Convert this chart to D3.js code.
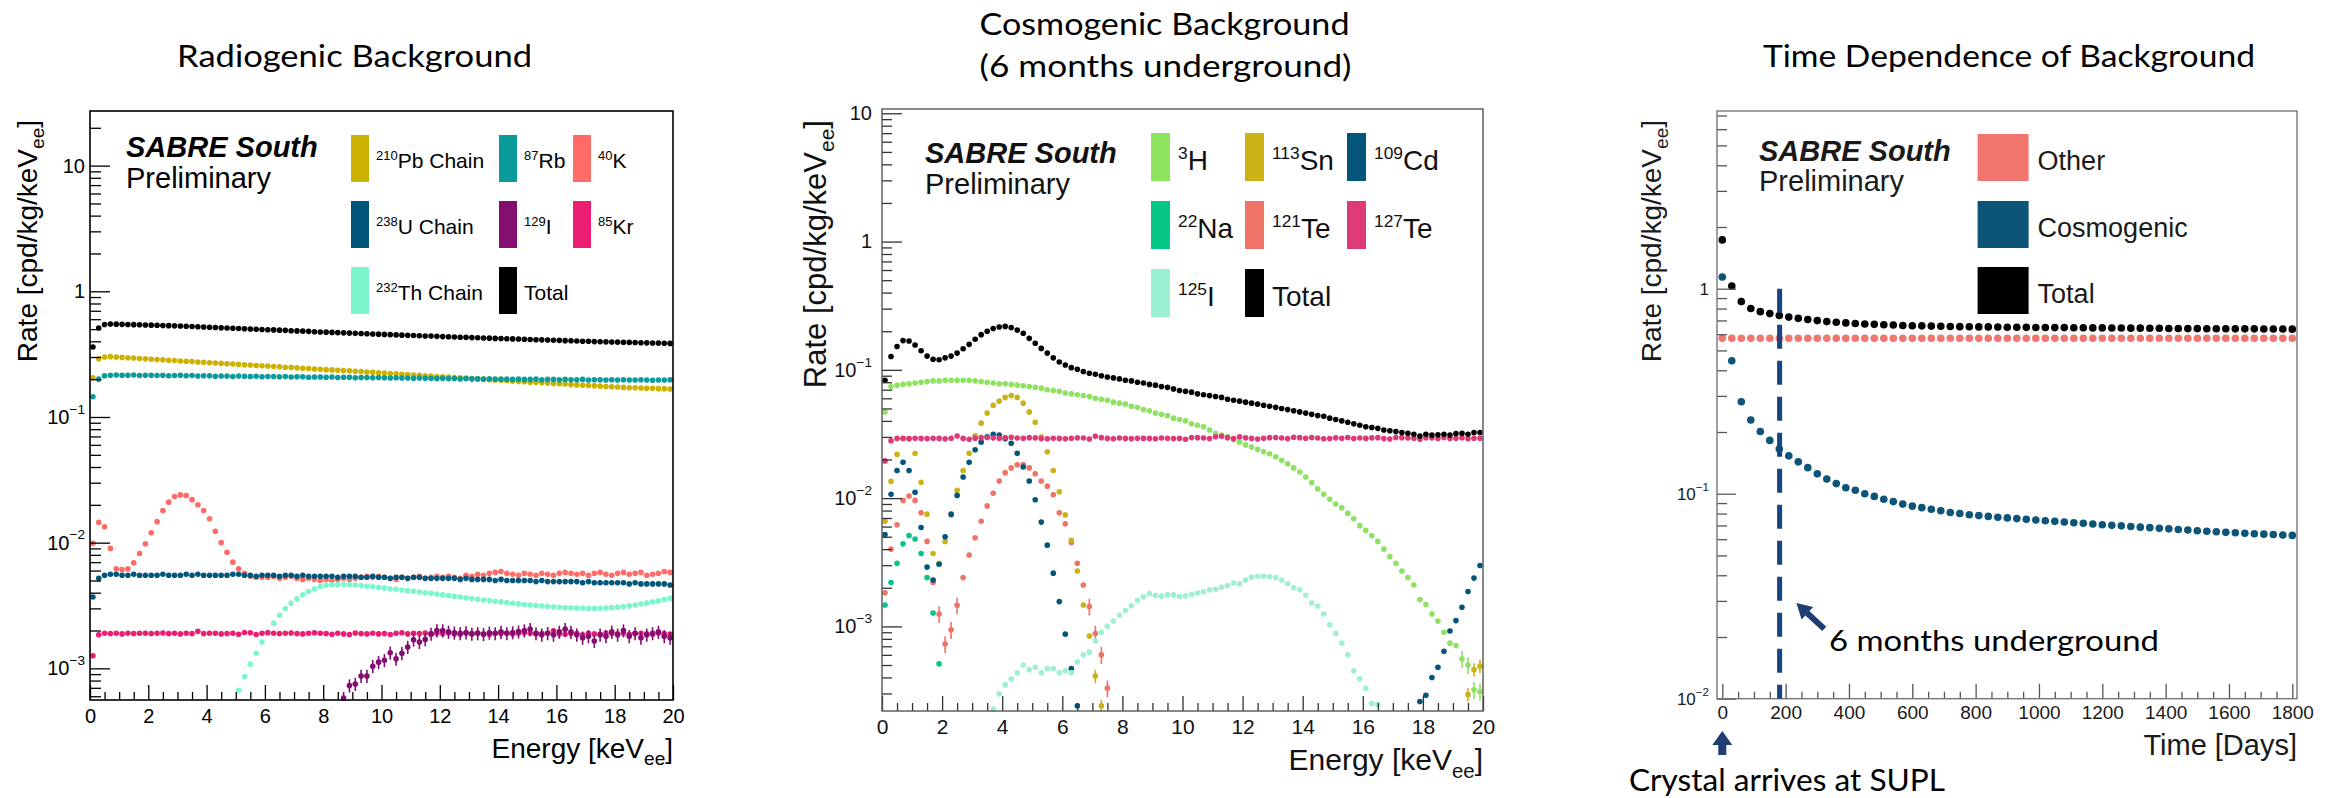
<!doctype html>
<html lang='en'>
<head>
<meta charset='UTF-8'>
<title>SABRE South backgrounds</title>
<style>
  body,html{ margin:0; padding:0; background:#fff; }
  svg{ display:block; }
</style>
</head>
<body>
<script src='https://d3js.org/d3.v7.min.js'></script>
<script>
  // bin centres (keVee) and time points (days)
  const energyBins = d3.range(100).map(i => Math.round((0.1 + 0.2 * i) * 10) / 10)
  const dayPoints = d3.range(0, 1801, 30)

  /******************** radiogenic background [cpd/kg/keVee] ********************/
  const radioTotal = [
    0.36, 0.51, 0.545, 0.55, 0.548, 0.546, 0.545, 0.543, 0.542, 0.540,
    0.538, 0.537, 0.535, 0.533, 0.531, 0.530, 0.527, 0.525, 0.523, 0.520,
    0.517, 0.515, 0.512, 0.510, 0.508, 0.506, 0.503, 0.501, 0.499, 0.497,
    0.495, 0.493, 0.491, 0.489, 0.486, 0.484, 0.482, 0.480, 0.477, 0.475,
    0.473, 0.471, 0.469, 0.467, 0.465, 0.463, 0.461, 0.459, 0.457, 0.456,
    0.454, 0.452, 0.450, 0.448, 0.446, 0.445, 0.443, 0.441, 0.440, 0.438,
    0.436, 0.435, 0.433, 0.431, 0.430, 0.428, 0.427, 0.425, 0.424, 0.422,
    0.421, 0.419, 0.418, 0.417, 0.415, 0.414, 0.412, 0.411, 0.410, 0.408,
    0.407, 0.405, 0.404, 0.402, 0.401, 0.400, 0.398, 0.397, 0.396, 0.395,
    0.394, 0.393, 0.392, 0.391, 0.390, 0.389, 0.388, 0.387, 0.386, 0.385]
  const pb210 = [
    0.205, 0.29, 0.30, 0.302, 0.30, 0.298, 0.296, 0.294, 0.292, 0.290,
    0.288, 0.287, 0.285, 0.283, 0.281, 0.279, 0.277, 0.276, 0.274, 0.272,
    0.270, 0.269, 0.267, 0.265, 0.264, 0.262, 0.260, 0.259, 0.257, 0.256,
    0.254, 0.252, 0.251, 0.249, 0.248, 0.246, 0.244, 0.243, 0.241, 0.240,
    0.238, 0.237, 0.235, 0.234, 0.233, 0.231, 0.230, 0.228, 0.227, 0.225,
    0.224, 0.222, 0.221, 0.219, 0.218, 0.216, 0.215, 0.213, 0.212, 0.210,
    0.209, 0.208, 0.206, 0.205, 0.204, 0.202, 0.201, 0.200, 0.198, 0.197,
    0.196, 0.194, 0.193, 0.192, 0.191, 0.189, 0.188, 0.187, 0.186, 0.185,
    0.184, 0.183, 0.181, 0.180, 0.179, 0.178, 0.177, 0.176, 0.175, 0.174,
    0.173, 0.172, 0.171, 0.171, 0.170, 0.169, 0.169, 0.168, 0.168, 0.167]
  const rb87 = [
    0.145, 0.200, 0.213, 0.215, 0.216, 0.215, 0.215, 0.216, 0.214, 0.215,
    0.215, 0.214, 0.215, 0.213, 0.214, 0.215, 0.213, 0.214, 0.212, 0.213,
    0.213, 0.211, 0.212, 0.212, 0.210, 0.212, 0.211, 0.210, 0.211, 0.209,
    0.210, 0.210, 0.209, 0.210, 0.208, 0.209, 0.209, 0.207, 0.208, 0.208,
    0.207, 0.208, 0.206, 0.207, 0.207, 0.205, 0.206, 0.206, 0.205, 0.206,
    0.205, 0.204, 0.205, 0.204, 0.204, 0.203, 0.204, 0.203, 0.203, 0.202,
    0.203, 0.202, 0.202, 0.201, 0.202, 0.201, 0.201, 0.200, 0.201, 0.200,
    0.200, 0.200, 0.199, 0.200, 0.199, 0.199, 0.200, 0.198, 0.199, 0.199,
    0.198, 0.199, 0.198, 0.198, 0.199, 0.197, 0.198, 0.198, 0.197, 0.198,
    0.197, 0.198, 0.197, 0.197, 0.198, 0.197, 0.196, 0.197, 0.197, 0.198]
  const k40 = [
    0.0099, 0.0145, 0.0134, 0.0090, 0.0062, 0.0061, 0.0062, 0.0069, 0.0082, 0.0098,
    0.0120, 0.0147, 0.0180, 0.0210, 0.0233, 0.0240, 0.0237, 0.0220, 0.0200, 0.0180,
    0.0155, 0.0123, 0.0100, 0.0084, 0.0070, 0.0062, 0.0057, 0.0054, 0.0053, 0.0053,
    0.0053, 0.0054, 0.0052, 0.0053, 0.0054, 0.0052, 0.0051, 0.0052, 0.0051, 0.0050,
    0.0051, 0.0050, 0.0051, 0.0052, 0.0051, 0.0052, 0.0053, 0.0054, 0.0053, 0.0054,
    0.0053, 0.0052, 0.0051, 0.0053, 0.0052, 0.0053, 0.0054, 0.0052, 0.0053, 0.0054,
    0.0053, 0.0054, 0.0053, 0.0052, 0.0055, 0.0054, 0.0056, 0.0055, 0.0057, 0.0058,
    0.0059, 0.0057, 0.0056, 0.0055, 0.0057, 0.0056, 0.0055, 0.0057, 0.0056, 0.0055,
    0.0057, 0.0058, 0.0057, 0.0056, 0.0057, 0.0055, 0.0057, 0.0058, 0.0056, 0.0055,
    0.0057, 0.0058, 0.0056, 0.0057, 0.0058, 0.0055, 0.0056, 0.0057, 0.0059, 0.0058]
  const u238 = [
    0.0037, 0.0052, 0.0055, 0.0056, 0.0056, 0.0055, 0.0055, 0.0056, 0.0055, 0.0055,
    0.0055, 0.0055, 0.0056, 0.0055, 0.0055, 0.0055, 0.0056, 0.0055, 0.0056, 0.0055,
    0.0055, 0.0055, 0.0055, 0.0055, 0.0056, 0.0056, 0.0055, 0.0055, 0.0054, 0.0055,
    0.0055, 0.0055, 0.0054, 0.0055, 0.0055, 0.0054, 0.0055, 0.0054, 0.0054, 0.0054,
    0.0054, 0.0054, 0.0053, 0.0054, 0.0054, 0.0054, 0.0053, 0.0053, 0.0054, 0.0053,
    0.0053, 0.0052, 0.0053, 0.0053, 0.0052, 0.0053, 0.0053, 0.0052, 0.0052, 0.0052,
    0.0052, 0.0052, 0.0052, 0.0051, 0.0052, 0.0051, 0.0051, 0.0051, 0.0051, 0.0050,
    0.0051, 0.0050, 0.0050, 0.0050, 0.0050, 0.0050, 0.0049, 0.0050, 0.0049, 0.0049,
    0.0049, 0.0049, 0.0049, 0.0049, 0.0048, 0.0049, 0.0048, 0.0048, 0.0048, 0.0048,
    0.0048, 0.0048, 0.0047, 0.0048, 0.0047, 0.0047, 0.0047, 0.0047, 0.0047, 0.0046]
  const kr85 = [
    0.00126, 0.00185, 0.0019, 0.00189, 0.0019, 0.00188, 0.0019, 0.00189, 0.0019, 0.0019,
    0.00189, 0.0019, 0.00191, 0.00189, 0.0019, 0.00188, 0.0019, 0.00189, 0.00197, 0.00189,
    0.0019, 0.0019, 0.00188, 0.00189, 0.0019, 0.00187, 0.00193, 0.00192, 0.00186, 0.0019,
    0.00192, 0.0019, 0.00189, 0.0019, 0.00191, 0.00189, 0.00188, 0.0019, 0.00192, 0.0019,
    0.00189, 0.00187, 0.0019, 0.00188, 0.00186, 0.00191, 0.00189, 0.00188, 0.0019, 0.00188,
    0.00189, 0.00186, 0.0019, 0.00192, 0.00188, 0.0019, 0.00189, 0.00191, 0.00188, 0.0019,
    0.00189, 0.00192, 0.00188, 0.00187, 0.0019, 0.00189, 0.00191, 0.00188, 0.00187, 0.0019,
    0.00189, 0.00191, 0.00188, 0.0019, 0.00192, 0.0019, 0.00188, 0.00189, 0.0019, 0.00199,
    0.00188, 0.00187, 0.00189, 0.0019, 0.00185, 0.0019, 0.00188, 0.00187, 0.00191, 0.00189,
    0.00188, 0.0019, 0.00187, 0.00189, 0.0019, 0.00188, 0.00187, 0.00191, 0.00189, 0.00187]
  // starts at bin 25 (5.1 keV)
  const th232 = [
    6.7e-4, 8.6e-4, 1.08e-3, 1.32e-3, 1.62e-3,
    1.94e-3, 2.29e-3, 2.64e-3, 2.98e-3, 3.3e-3, 3.57e-3, 3.85e-3, 4.08e-3, 4.3e-3, 4.47e-3,
    4.58e-3, 4.63e-3, 4.65e-3, 4.65e-3, 4.64e-3, 4.6e-3, 4.56e-3, 4.5e-3, 4.45e-3, 4.4e-3,
    4.35e-3, 4.3e-3, 4.25e-3, 4.2e-3, 4.15e-3, 4.1e-3, 4.05e-3, 4.0e-3, 3.95e-3, 3.9e-3,
    3.85e-3, 3.8e-3, 3.75e-3, 3.7e-3, 3.65e-3, 3.6e-3, 3.55e-3, 3.5e-3, 3.46e-3, 3.42e-3,
    3.38e-3, 3.34e-3, 3.3e-3, 3.26e-3, 3.22e-3, 3.19e-3, 3.16e-3, 3.13e-3, 3.1e-3, 3.08e-3,
    3.06e-3, 3.04e-3, 3.03e-3, 3.02e-3, 3.01e-3, 3.0e-3, 3.0e-3, 3.01e-3, 3.02e-3, 3.04e-3,
    3.07e-3, 3.1e-3, 3.14e-3, 3.19e-3, 3.25e-3, 3.31e-3, 3.38e-3, 3.45e-3, 3.53e-3, 3.62e-3]
  // starts at bin 43 (8.7 keV)
  const i129 = [
    5.8e-4, 7.3e-4, 7.5e-4, 8.7e-4, 8.7e-4, 1.04e-3, 1.12e-3,
    1.16e-3, 1.33e-3, 1.19e-3, 1.32e-3, 1.48e-3, 1.69e-3, 1.62e-3, 1.70e-3, 1.88e-3, 2.0e-3,
    2.0e-3, 1.95e-3, 1.92e-3, 1.9e-3, 1.93e-3, 1.88e-3, 1.9e-3, 1.87e-3, 1.92e-3, 1.9e-3,
    1.95e-3, 1.9e-3, 1.93e-3, 1.96e-3, 2.0e-3, 2.05e-3, 1.9e-3, 1.85e-3, 1.9e-3, 1.85e-3,
    1.95e-3, 2.05e-3, 1.95e-3, 1.85e-3, 1.75e-3, 1.8e-3, 1.65e-3, 1.85e-3, 1.8e-3, 1.95e-3,
    1.85e-3, 2.0e-3, 1.8e-3, 1.9e-3, 1.75e-3, 1.85e-3, 1.9e-3, 1.95e-3, 1.8e-3, 1.75e-3]

  /******************** cosmogenic background, 6 months underground ********************/
  const cosmoTotal = [
    0.083, 0.127, 0.152, 0.169, 0.168, 0.156, 0.141, 0.128, 0.121, 0.120,
    0.124, 0.128, 0.135, 0.146, 0.158, 0.173, 0.188, 0.200, 0.210, 0.216,
    0.218, 0.214, 0.204, 0.193, 0.176, 0.161, 0.147, 0.135, 0.124, 0.115,
    0.109, 0.104, 0.101, 0.097, 0.094, 0.0925, 0.090, 0.088, 0.0865, 0.085,
    0.083, 0.082, 0.080, 0.079, 0.077, 0.076, 0.074, 0.073, 0.071, 0.069,
    0.068, 0.067, 0.065, 0.064, 0.063, 0.062, 0.061, 0.059, 0.058, 0.057,
    0.056, 0.055, 0.054, 0.053, 0.052, 0.051, 0.050, 0.049, 0.048, 0.047,
    0.046, 0.045, 0.044, 0.0435, 0.042, 0.041, 0.040, 0.039, 0.038, 0.037,
    0.036, 0.0355, 0.035, 0.034, 0.0335, 0.033, 0.0325, 0.032, 0.0315, 0.0305,
    0.0315, 0.031, 0.0312, 0.0315, 0.031, 0.0318, 0.032, 0.0315, 0.0325, 0.0325]
  const h3 = [
    0.047, 0.074, 0.076, 0.077, 0.078, 0.079, 0.080, 0.081, 0.082, 0.082,
    0.083, 0.083, 0.083, 0.083, 0.083, 0.082, 0.081, 0.080, 0.079, 0.078,
    0.078, 0.077, 0.076, 0.075, 0.074, 0.073, 0.072, 0.070, 0.069, 0.068,
    0.066, 0.065, 0.064, 0.063, 0.062, 0.060, 0.059, 0.058, 0.056, 0.055,
    0.054, 0.052, 0.051, 0.049, 0.048, 0.046, 0.045, 0.044, 0.042, 0.041,
    0.040, 0.038, 0.037, 0.036, 0.034, 0.032, 0.031, 0.030, 0.0285, 0.0273,
    0.026, 0.025, 0.024, 0.023, 0.0222, 0.021, 0.0197, 0.0185, 0.0172, 0.016,
    0.0146, 0.0132, 0.0118, 0.0107, 0.0098, 0.0090, 0.0084, 0.0076, 0.0069, 0.0061,
    0.0056, 0.0051, 0.0046, 0.0040, 0.0035, 0.0031, 0.0027, 0.0024, 0.0021, 0.00162,
    0.00148, 0.00125, 0.0011, 0.0009, 0.00074, 0.00071, 0.00056, 0.0005, 0.00032, 0.00031]
  const te127 = [
    0.0195, 0.028, 0.0292, 0.0293, 0.0291, 0.0293, 0.0292, 0.0291, 0.0293, 0.0292,
    0.0290, 0.0293, 0.0305, 0.0292, 0.0288, 0.0293, 0.0296, 0.0297, 0.0295, 0.0293,
    0.0296, 0.0298, 0.0294, 0.0293, 0.0296, 0.0295, 0.0291, 0.0290, 0.0293, 0.0292,
    0.0290, 0.0293, 0.0295, 0.0294, 0.0289, 0.0303, 0.0296, 0.0292, 0.0290, 0.0294,
    0.0292, 0.0291, 0.0293, 0.0292, 0.0292, 0.0290, 0.0294, 0.0293, 0.0291, 0.0292,
    0.0288, 0.0297, 0.0296, 0.0294, 0.0291, 0.0301, 0.0303, 0.0296, 0.0291, 0.0300,
    0.0295, 0.0292, 0.0289, 0.0293, 0.0296, 0.0297, 0.0294, 0.0291, 0.0298, 0.0296,
    0.0293, 0.0297, 0.0294, 0.0290, 0.0291, 0.0295, 0.0293, 0.0297, 0.0291, 0.0294,
    0.0292, 0.0295, 0.0296, 0.0291, 0.0289, 0.0297, 0.0296, 0.0294, 0.0293, 0.0288,
    0.0296, 0.0295, 0.0292, 0.0297, 0.0291, 0.0293, 0.0296, 0.0290, 0.0293, 0.0293]
  const sn113 = [
    0.0066, 0.0135, 0.022, 0.029, 0.029, 0.0223, 0.0133, 0.0075, 0.0037, 0.0031,
    0.0046, 0.0074, 0.0115, 0.0164, 0.0224, 0.0306, 0.0384, 0.046, 0.053, 0.057,
    0.061, 0.063, 0.061, 0.055, 0.047, 0.039, 0.030, 0.023, 0.0164, 0.0112,
    0.0074, 0.0047, 0.0027, 0.00147, 0.00084, 0.00041, 0.00024]
  const sn113Tail = [0.000295, 0.00046, 0.00049]           // bins 97-99
  const cd109 = [
    0.0052, 0.0107, 0.0164, 0.019, 0.0164, 0.0111, 0.0059, 0.0029, 0.0023, 0.00305,
    0.0050, 0.0075, 0.0105, 0.0146, 0.019, 0.0238, 0.0273, 0.030, 0.0315, 0.031,
    0.029, 0.0268, 0.0224, 0.0175, 0.0136, 0.0097, 0.0065, 0.0043, 0.0026, 0.00156,
    0.00087, 0.00047, 0.00024]
  const cd109Tail = [0.00026, 0.00029, 0.0004, 0.00048, 0.00064, 0.00092, 0.00111,
    0.00141, 0.00187, 0.00238, 0.00298]                    // bins 89-99
  const te121 = [
    0.00183, 0.0040, 0.0062, 0.0096, 0.0104, 0.0096, 0.0077, 0.0046, 0.0022, 0.00125,
    0.00073, 0.00094, 0.00146, 0.0024, 0.0036, 0.0049, 0.0066, 0.0087, 0.0109, 0.0136,
    0.0158, 0.0172, 0.0182, 0.0183, 0.0172, 0.0155, 0.0136, 0.0124, 0.0106, 0.0077,
    0.0063, 0.0045, 0.0031, 0.0021, 0.00143, 0.00088, 0.0006, 0.00033]
  const na22 = [0.00147, 0.0022, 0.0031, 0.0044, 0.0051, 0.0048, 0.0037, 0.0024, 0.00127, 0.00051]
  // starts at bin 18 (3.7 keV)
  const i125 = [
    2.27e-4, 2.98e-4,
    3.5e-4, 3.9e-4, 4.35e-4, 5.0e-4, 4.6e-4, 4.8e-4, 4.35e-4, 4.7e-4, 4.7e-4, 4.35e-4,
    4.5e-4, 4.35e-4, 5.3e-4, 6.0e-4, 6.3e-4, 7.7e-4, 9.0e-4, 1.0e-3, 1.1e-3, 1.22e-3,
    1.33e-3, 1.45e-3, 1.6e-3, 1.7e-3, 1.8e-3, 1.75e-3, 1.72e-3, 1.76e-3, 1.76e-3, 1.71e-3,
    1.73e-3, 1.78e-3, 1.82e-3, 1.86e-3, 1.93e-3, 1.95e-3, 2.02e-3, 2.08e-3, 2.18e-3, 2.15e-3,
    2.3e-3, 2.42e-3, 2.46e-3, 2.46e-3, 2.44e-3, 2.4e-3, 2.3e-3, 2.15e-3, 2.0e-3, 1.93e-3,
    1.75e-3, 1.52e-3, 1.44e-3, 1.25e-3, 1.03e-3, 8.8e-4, 7.4e-4, 6.0e-4, 4.5e-4, 3.9e-4,
    3.3e-4, 2.5e-4, 2.46e-4]

  /******************** time dependence (monthly points) ********************/
  const otherRate = [
    0.573, 0.573, 0.573, 0.573, 0.573, 0.573, 0.573, 0.573, 0.573, 0.573,
    0.573, 0.573, 0.573, 0.573, 0.573, 0.573, 0.573, 0.573, 0.573, 0.573,
    0.573, 0.573, 0.573, 0.573, 0.573, 0.573, 0.573, 0.573, 0.573, 0.573,
    0.573, 0.573, 0.573, 0.573, 0.573, 0.573, 0.573, 0.573, 0.573, 0.573,
    0.573, 0.573, 0.573, 0.573, 0.573, 0.573, 0.573, 0.573, 0.573, 0.573,
    0.573, 0.573, 0.573, 0.573, 0.573, 0.573, 0.573, 0.573, 0.573, 0.573, 0.573]
  const cosmoRate = [
    1.14, 0.445, 0.281, 0.229, 0.201, 0.182, 0.165, 0.153, 0.143, 0.134,
    0.125, 0.118, 0.112, 0.107, 0.104, 0.100, 0.097, 0.094, 0.0915, 0.089,
    0.087, 0.0855, 0.084, 0.0826, 0.081, 0.080, 0.079, 0.0782, 0.0775, 0.0768,
    0.0762, 0.0756, 0.075, 0.0744, 0.0738, 0.0733, 0.0728, 0.0722, 0.0717, 0.0711,
    0.0706, 0.0701, 0.0697, 0.0692, 0.0687, 0.0683, 0.0678, 0.0674, 0.0669, 0.0665,
    0.066, 0.0656, 0.0652, 0.0648, 0.0645, 0.0641, 0.0638, 0.0635, 0.0632, 0.0629, 0.0626]
  const totalRate = [
    1.73, 1.03, 0.865, 0.80, 0.773, 0.756, 0.740, 0.727, 0.717, 0.708,
    0.699, 0.691, 0.686, 0.681, 0.677, 0.673, 0.670, 0.667, 0.665, 0.662,
    0.660, 0.659, 0.657, 0.656, 0.654, 0.653, 0.652, 0.651, 0.651, 0.650,
    0.649, 0.649, 0.648, 0.647, 0.647, 0.646, 0.646, 0.645, 0.645, 0.644,
    0.644, 0.643, 0.643, 0.642, 0.642, 0.641, 0.641, 0.640, 0.640, 0.639,
    0.639, 0.638, 0.638, 0.638, 0.637, 0.637, 0.637, 0.636, 0.636, 0.636, 0.635]
  const undergroundDay = 181

  const ROOT_FONT = "'Liberation Sans', Arial, Helvetica, sans-serif"
  const SLIDE_FONT = "Lato, 'Open Sans', sans-serif"

  const svg = d3.select('body').append('svg')
    .attr('width', 2335)
    .attr('height', 798)
    .style('background', '#fff')

  // "10", "1", "10^-n" style labels
  function powerLabel(sel, v) {
    const e = Math.round(Math.log10(v))
    sel.text('')
    if (e >= 0) {
      sel.text(String(Math.pow(10, e)))
    } else {
      sel.append('tspan').text('10')
      sel.append('tspan').attr('font-size', '0.68em').attr('dy', '-0.75em').text('\u2212' + (-e))
    }
  }

  // text with a subscript "ee" part, e.g. keV_ee
  function subText(sel, before, sub, after, size) {
    sel.append('tspan').text(before)
    sel.append('tspan').attr('font-size', size * 0.68).attr('dy', size * 0.26).text(sub)
    sel.append('tspan').attr('dy', -size * 0.26).text(after)
  }

  function panel(c) {
    const g = svg.append('g')
    const x = d3.scaleLinear().domain(c.xDomain).range([c.left, c.right])
    const y = d3.scaleLog().domain(c.yDomain).range([c.bottom, c.top])

    // series
    c.series.forEach(s => {
      const pts = []
      s.segs.forEach(([start, vals]) => vals.forEach((v, j) => pts.push({ t: c.xs[start + j], v: v })))
      const shown = pts.filter(p => p.v >= c.yDomain[0] && p.v <= c.yDomain[1])
      const sg = g.append('g')
      if (s.err) {
        sg.selectAll('line')
          .data(shown.filter(p => p.v < s.errBelow))
          .join('line')
          .attr('x1', p => x(p.t)).attr('x2', p => x(p.t))
          .attr('y1', p => y(Math.max(p.v * (1 - s.err), c.yDomain[0])))
          .attr('y2', p => y(p.v * (1 + s.err)))
          .attr('stroke', s.color)
          .attr('stroke-width', 1.6)
      }
      sg.selectAll('circle')
        .data(shown)
        .join('circle')
        .attr('cx', p => x(p.t))
        .attr('cy', p => y(p.v))
        .attr('r', c.r)
        .attr('fill', s.color)
    })

    // x axis, ticks drawn inside the frame
    const xg = g.append('g').attr('transform', `translate(0,${c.bottom})`)
    xg.append('g')
      .call(d3.axisBottom(x).tickValues(c.xMinor).tickSize(-c.xMinorLen).tickFormat(''))
    xg.append('g')
      .call(d3.axisBottom(x).tickValues(c.xMajor).tickSize(-c.xMajorLen).tickPadding(c.xPad).tickFormat(d3.format('d')))
      .attr('font-size', c.xFont)
      .attr('font-family', ROOT_FONT)
    xg.selectAll('.domain').remove()
    xg.selectAll('line').attr('stroke', c.tick).attr('stroke-width', 1.3)
    xg.selectAll('text').attr('fill', c.text)

    // log y axis
    const yMinor = y.ticks().filter(v => Math.abs(Math.log10(v) - Math.round(Math.log10(v))) > 1e-6)
    const yg = g.append('g').attr('transform', `translate(${c.left},0)`)
    yg.append('g')
      .call(d3.axisLeft(y).tickValues(yMinor).tickSize(-c.yMinorLen).tickFormat(''))
      .selectAll('text').remove()
    const yMajorG = yg.append('g')
      .call(d3.axisLeft(y).tickValues(c.yMajor).tickSize(-c.yMajorLen).tickPadding(c.yPad))
      .attr('font-size', c.yFont)
      .attr('font-family', ROOT_FONT)
    yg.selectAll('.domain').remove()
    yg.selectAll('line').attr('stroke', c.tick).attr('stroke-width', 1.3)
    yMajorG.selectAll('text').attr('fill', c.text).each(function(d) { powerLabel(d3.select(this), d) })

    // frame
    g.append('rect')
      .attr('x', c.left).attr('y', c.top)
      .attr('width', c.right - c.left).attr('height', c.bottom - c.top)
      .attr('fill', 'none')
      .attr('stroke', c.frame)
      .attr('stroke-width', c.frameW)

    // axis titles
    const yt = g.append('text')
      .attr('transform', `translate(${c.yTitle.x},${c.yTitle.y}) rotate(-90)`)
      .attr('text-anchor', 'end')
      .attr('font-family', ROOT_FONT)
      .attr('font-size', c.yTitle.size)
      .attr('fill', c.text)
    subText(yt, 'Rate [cpd/kg/keV', 'ee', ']', c.yTitle.size)

    const xt = g.append('text')
      .attr('x', c.right).attr('y', c.xTitle.y)
      .attr('text-anchor', 'end')
      .attr('font-family', ROOT_FONT)
      .attr('font-size', c.xTitle.size)
      .attr('fill', c.text)
    if (c.xTitle.sub) subText(xt, c.xTitle.text, c.xTitle.sub, ']', c.xTitle.size)
    else xt.text(c.xTitle.text)

    // SABRE South Preliminary
    g.append('text')
      .attr('x', c.tag.x).attr('y', c.tag.y)
      .attr('font-family', ROOT_FONT).attr('font-size', 29)
      .attr('font-weight', 'bold').attr('font-style', 'italic')
      .attr('fill', c.text)
      .text('SABRE South')
    g.append('text')
      .attr('x', c.tag.x).attr('y', c.tag.y + c.tag.gap)
      .attr('font-family', ROOT_FONT).attr('font-size', 29)
      .attr('fill', c.text)
      .text('Preliminary')

    // legend
    const L = c.legend
    c.series.slice().sort((a, b) => a.order - b.order).forEach((s, k) => {
      const col = k % L.xs.length
      const row = Math.floor(k / L.xs.length)
      const sx = L.xs[col]
      const sy = L.ys[row]
      g.append('rect')
        .attr('x', sx).attr('y', sy)
        .attr('width', L.w).attr('height', L.h)
        .attr('fill', s.color)
      const t = g.append('text')
        .attr('x', sx + L.w + L.gap).attr('y', sy + L.base)
        .attr('font-family', ROOT_FONT).attr('font-size', L.size)
        .attr('fill', c.text)
      if (s.sup) {
        const rise = L.size * 0.38
        t.append('tspan').attr('font-size', L.size * 0.62).attr('dy', -rise).text(s.sup)
        t.append('tspan').attr('dy', rise).text(s.label)
      } else {
        t.text(s.label)
      }
    })

    // slide title above the plot
    c.title.forEach(tl => {
      svg.append('text')
        .attr('x', tl.x).attr('y', tl.y)
        .attr('text-anchor', 'middle')
        .attr('font-family', SLIDE_FONT)
        .attr('font-size', tl.size)
        .attr('textLength', tl.len)
        .attr('lengthAdjust', 'spacingAndGlyphs')
        .attr('fill', '#000')
        .text(tl.text)
    })

    return { g: g, x: x, y: y }
  }

  const energyMinor = d3.range(0, 20.01, 0.5).filter(v => v % 2 !== 0)

  /******************** radiogenic ********************/
  panel({
    left: 90, right: 673, top: 111, bottom: 700,
    xDomain: [0, 20], yDomain: [5.6e-4, 27.2], xs: energyBins,
    xMajor: d3.range(0, 21, 2), xMinor: energyMinor, xMajorLen: 15, xMinorLen: 8, xPad: 9, xFont: 20,
    yMajor: [1e-3, 1e-2, 1e-1, 1, 10], yMajorLen: 20, yMinorLen: 11, yPad: 5, yFont: 20,
    frame: '#000', frameW: 1.6, tick: '#000', text: '#000', r: 2.8,
    yTitle: { x: 37, y: 120, size: 28 },
    xTitle: { text: 'Energy [keV', sub: 'ee', y: 758, size: 28 },
    tag: { x: 126, y: 157, gap: 31 },
    legend: { xs: [351, 499, 573], ys: [135, 201, 267], w: 18, h: 47, gap: 7, base: 33, size: 21 },
    title: [{ text: 'Radiogenic Background', x: 354.5, y: 67, size: 31, len: 355 }],
    series: [
      { label: 'Pb Chain', sup: '210', color: '#CBB200', order: 0, segs: [[0, pb210]] },
      { label: 'Rb', sup: '87', color: '#0C9B9B', order: 1, segs: [[0, rb87]] },
      { label: 'K', sup: '40', color: '#FF6B66', order: 2, segs: [[0, k40]] },
      { label: 'U Chain', sup: '238', color: '#02567A', order: 3, segs: [[0, u238]] },
      { label: 'Th Chain', sup: '232', color: '#7DF5CF', order: 6, segs: [[25, th232]] },
      { label: 'Kr', sup: '85', color: '#EC1E72', order: 5, segs: [[0, kr85]] },
      { label: 'I', sup: '129', color: '#840D70', order: 4, segs: [[43, i129]], err: 0.12, errBelow: 1 },
      { label: 'Total', color: '#000', order: 7, segs: [[0, radioTotal]] }
    ]
  })

  /******************** cosmogenic ********************/
  panel({
    left: 882, right: 1483, top: 109, bottom: 711,
    xDomain: [0, 20], yDomain: [2.19e-4, 10.8], xs: energyBins,
    xMajor: d3.range(0, 21, 2), xMinor: energyMinor, xMajorLen: 15, xMinorLen: 8, xPad: 8, xFont: 21,
    yMajor: [1e-3, 1e-2, 1e-1, 1, 10], yMajorLen: 20, yMinorLen: 10, yPad: 10, yFont: 20,
    frame: '#555', frameW: 1.4, tick: '#333', text: '#111', r: 2.8,
    yTitle: { x: 826, y: 120, size: 31 },
    xTitle: { text: 'Energy [keV', sub: 'ee', y: 770, size: 30 },
    tag: { x: 925, y: 163, gap: 31 },
    legend: { xs: [1151, 1245, 1347], ys: [133, 201, 269], w: 19, h: 48, gap: 8, base: 37, size: 28 },
    title: [
      { text: 'Cosmogenic Background', x: 1164.5, y: 35, size: 31, len: 370 },
      { text: '(6 months underground)', x: 1165.5, y: 77, size: 31, len: 372 }
    ],
    series: [
      { label: 'H', sup: '3', color: '#8DE25E', order: 0, segs: [[0, h3]], err: 0.15, errBelow: 6e-4 },
      { label: 'Na', sup: '22', color: '#05C687', order: 3, segs: [[0, na22]] },
      { label: 'Te', sup: '121', color: '#F07368', order: 4, segs: [[0, te121]], err: 0.15, errBelow: 1.6e-3 },
      { label: 'Sn', sup: '113', color: '#CDB216', order: 1, segs: [[0, sn113], [97, sn113Tail]], err: 0.12, errBelow: 6e-4 },
      { label: 'Cd', sup: '109', color: '#03557A', order: 2, segs: [[0, cd109], [89, cd109Tail]] },
      { label: 'I', sup: '125', color: '#9CF1D4', order: 6, segs: [[18, i125]] },
      { label: 'Te', sup: '127', color: '#DE3A78', order: 5, segs: [[0, te127]] },
      { label: 'Total', color: '#000', order: 7, segs: [[0, cosmoTotal]] }
    ]
  })

  /******************** time dependence ********************/
  const tp = panel({
    left: 1717, right: 2297, top: 111, bottom: 698.7,
    xDomain: [-16.7, 1814.8], yDomain: [0.01, 7.36], xs: dayPoints,
    xMajor: d3.range(0, 1801, 200), xMinor: d3.range(0, 1801, 50).filter(v => v % 200 !== 0),
    xMajorLen: 15, xMinorLen: 7, xPad: 7, xFont: 19,
    yMajor: [0.01, 0.1, 1], yMajorLen: 19, yMinorLen: 10, yPad: 8, yFont: 17,
    frame: '#777', frameW: 1.4, tick: '#555', text: '#1a1a1a', r: 3.8,
    yTitle: { x: 1661, y: 120, size: 28 },
    xTitle: { text: 'Time [Days]', y: 755, size: 29 },
    tag: { x: 1759, y: 161, gap: 30 },
    legend: { xs: [1977.6], ys: [134, 201, 267], w: 51, h: 47, gap: 9, base: 36, size: 27 },
    title: [{ text: 'Time Dependence of Background', x: 2009, y: 67, size: 31, len: 492 }],
    series: [
      { label: 'Other', color: '#F0766F', order: 0, segs: [[0, otherRate]] },
      { label: 'Cosmogenic', color: '#0C5478', order: 1, segs: [[0, cosmoRate]] },
      { label: 'Total', color: '#000', order: 2, segs: [[0, totalRate]] }
    ]
  })

  /******************** annotations on the time panel ********************/
  const navy = '#1F3F73'
  tp.g.append('line')
    .attr('x1', tp.x(undergroundDay)).attr('x2', tp.x(undergroundDay))
    .attr('y1', tp.y(1)).attr('y2', tp.y(0.01))
    .attr('stroke', '#17457F')
    .attr('stroke-width', 5)
    .attr('stroke-dasharray', '24,12')

  function arrow(x1, y1, x2, y2, shaft, headLen, headW) {
    const ang = Math.atan2(y2 - y1, x2 - x1)
    const ux = Math.cos(ang), uy = Math.sin(ang)
    const nx = -uy, ny = ux
    const bx = x2 - ux * headLen, by = y2 - uy * headLen
    const pts = [
      [x1 + nx * shaft / 2, y1 + ny * shaft / 2],
      [bx + nx * shaft / 2, by + ny * shaft / 2],
      [bx + nx * headW / 2, by + ny * headW / 2],
      [x2, y2],
      [bx - nx * headW / 2, by - ny * headW / 2],
      [bx - nx * shaft / 2, by - ny * shaft / 2],
      [x1 - nx * shaft / 2, y1 - ny * shaft / 2]
    ]
    tp.g.append('path').attr('d', d3.line()(pts) + 'Z').attr('fill', navy)
  }

  // 6 months underground
  arrow(tp.x(322), tp.y(0.0219), tp.x(234), tp.y(0.0293), 6, 15, 17)
  tp.g.append('text')
    .attr('x', 1829).attr('y', 651)
    .attr('font-family', SLIDE_FONT).attr('font-size', 29)
    .attr('textLength', 330).attr('lengthAdjust', 'spacingAndGlyphs')
    .attr('fill', '#000')
    .text('6 months underground')

  // crystal arrival
  arrow(tp.x(0), 755, tp.x(0), 731, 8, 14, 20)
  tp.g.append('text')
    .attr('x', 1629).attr('y', 791)
    .attr('font-family', SLIDE_FONT).attr('font-size', 30)
    .attr('textLength', 316).attr('lengthAdjust', 'spacingAndGlyphs')
    .attr('fill', '#000')
    .text('Crystal arrives at SUPL')
</script>
</body>
</html>
